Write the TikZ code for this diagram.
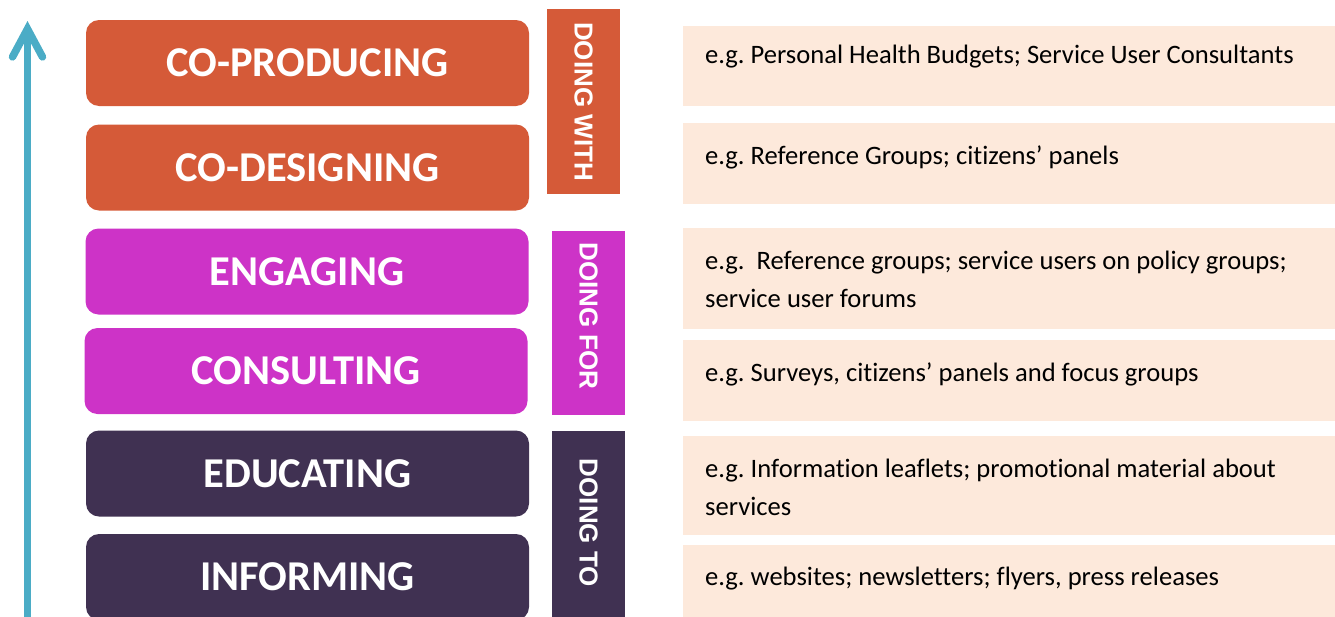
\documentclass[tikz,border=0pt]{standalone}
\usepackage{fontspec}
\setmainfont{Carlito}[Ligatures={NoCommon}]
\newfontfamily\barfont{Liberation Sans}
\usetikzlibrary{arrows.meta}
\definecolor{withColor}{HTML}{D55A38}
\definecolor{forColor}{HTML}{CD33C7}
\definecolor{toColor}{HTML}{403152}
\definecolor{exampleColor}{HTML}{FDE9DB}
\definecolor{ladderColor}{HTML}{4BACC6}
\frenchspacing

\begin{document}
\begin{tikzpicture}[x=1pt,y=-1pt]

            \tikzstyle{rung} = [rounded corners=13pt, minimum width=443pt, minimum height=86pt,
                inner sep=0pt, text=white, font=\fontsize{42.5}{44}\selectfont\bfseries];
            \tikzstyle{band} = [minimum width=73pt, inner sep=0pt, text=white,
                font=\barfont\fontsize{26}{28}\selectfont\bfseries];
            \tikzstyle{example} = [fill=exampleColor, minimum width=652pt, inner sep=0pt];
            \tikzstyle{exampleText} = [anchor=west, align=left, inner sep=0pt,
                font=\fontsize{26.6}{38}\selectfont];

            \useasboundingbox (0,0) rectangle (1335,616);

            % ladder arrow
            \coordinate (ladderBottom) at (27.5,640);
            \coordinate (ladderTop) at (27.5,21);
            \draw[ladderColor, line width=7.5pt,
                -{Straight Barb[length=28pt, width=30pt, line cap=round]}] (ladderBottom) -- (ladderTop);

            % rungs
            \node[rung, fill=withColor] (coProducing) at (307.5,63) {CO-PRODUCING};
            \node[rung, fill=withColor] (coDesigning) at (307.5,167.5) {CO-DESIGNING};
            \node[rung, fill=forColor] (engaging) at (307,271.5) {ENGAGING};
            \node[rung, fill=forColor] (consulting) at (306,371) {CONSULTING};
            \node[rung, fill=toColor] (educating) at (307.5,473.5) {EDUCATING};
            \node[rung, fill=toColor] (informing) at (307.5,577) {INFORMING};

            % bands
            \node[band, fill=withColor, minimum height=185pt] (doingWith) at (583.5,101.5) {};
            \node[band, fill=forColor, minimum height=184pt] (doingFor) at (588.5,323) {};
            \node[band, fill=toColor, minimum height=190pt] (doingTo) at (588.5,526) {};
            \node[band, rotate=-90] (doingWithText) at (583.5,101.5) {DOING WITH};
            \node[band, rotate=-90] (doingForText) at (588.5,316) {DOING FOR};
            \node[band, rotate=-90] (doingToText) at (588.5,523) {DOING TO};

            % examples
            \node[example, anchor=north west, minimum height=80pt] (exProducing) at (683,26) {};
            \node[example, anchor=north west, minimum height=81pt] (exDesigning) at (683,123) {};
            \node[example, anchor=north west, minimum height=101pt] (exEngaging) at (683,228) {};
            \node[example, anchor=north west, minimum height=81pt] (exConsulting) at (683,340) {};
            \node[example, anchor=north west, minimum height=99pt] (exEducating) at (683,436) {};
            \node[example, anchor=north west, minimum height=90pt] (exInforming) at (683,545) {};

            \node[exampleText] (txProducing) at (705,57) {e.g. Personal Health Budgets; Service User Consultants};
            \node[exampleText] (txDesigning) at (705,157) {e.g. Reference Groups; citizens’ panels};
            \node[exampleText] (txEngaging) at (705,279) {e.g.\ \ Reference groups; service users on policy groups;\\service user forums};
            \node[exampleText] (txConsulting) at (705,374) {e.g. Surveys, citizens’ panels and focus groups};
            \node[exampleText] (txEducating) at (705,487) {e.g. Information leaflets; promotional material about\\services};
            \node[exampleText] (txInforming) at (705,579) {e.g. websites; newsletters; flyers, press releases};

          \end{tikzpicture}
\end{document}
